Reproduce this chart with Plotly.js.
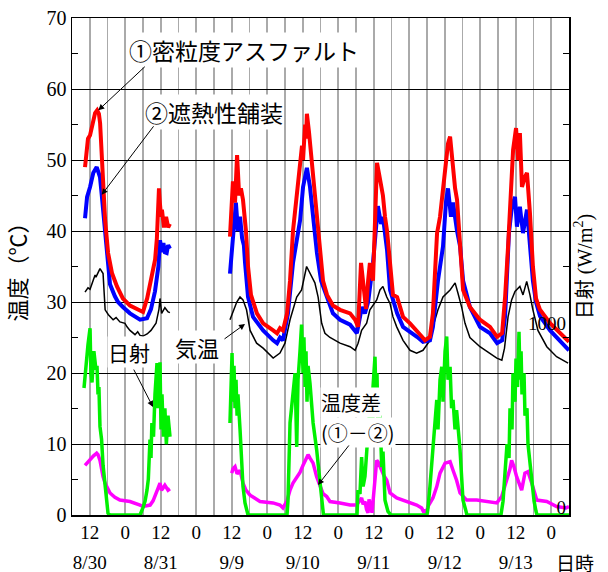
<!DOCTYPE html>
<html><head><meta charset="utf-8">
<script src="https://cdn.plot.ly/plotly-3.0.1.min.js"></script>
<style>body{margin:0;background:#fff}#chart{width:608px;height:572px}</style>
</head><body><div id="chart"></div>
<script>
// Time axis in hours on a compressed scale: 0 = 8/30 0:00, 24 = 8/31 0:00,
// 48 = 9/9 0:00, 72 = 9/10 0:00, 96 = 9/11, 120 = 9/12, 144 = 9/13, 168 = 9/14 0:00
const tickHours = [12,24,36,48,60,72,84,96,108,120,132,144,156,168];
const tickLabels = ['12','0','12','0','12','0','12','0','12','0','12','0','12','0'];
const dateHours = [12,36,60,84,108,132,156];
const dateLabels = ['8/30','8/31','9/9','9/10','9/11','9/12','9/13'];

// ① dense-graded asphalt surface temperature (°C)
const redHours = [10.4,11.1,11.4,12.1,12.8,13.8,14.5,15.1,15.5,16.1,
  16.5,17.2,18.2,19.5,21.2,23.2,25.6,27.3,29.0,30.0,
  31.4,32.4,33.4,34.1,34.7,35.4,35.7,36.1,36.4,37.1,
  37.8,38.5,39.1,null,
  59.4,60.1,60.4,61.1,61.8,62.5,63.1,63.8,64.8,65.5,
  66.5,68.5,70.6,74.0,75.3,76.3,77.3,78.7,79.7,80.7,
  81.7,82.7,83.4,83.75,84.1,84.8,85.1,85.4,86.1,86.8,
  87.5,88.1,88.8,89.8,90.85,92.2,94.2,96.6,100.0,101.7,
  102.7,103.7,104.4,105.4,106.1,106.7,107.75,108.4,109.1,109.8,
  110.45,111.1,111.8,112.5,113.5,114.5,115.9,117.9,120.25,122.6,
  124.3,125.3,127.0,128.0,128.7,129.4,130.4,131.4,132.4,133.1,
  133.8,134.5,134.8,135.5,136.15,136.8,137.5,138.2,140.5,143.9,
  147.3,149.7,151.4,152.4,153.4,154.1,155.1,156.1,156.8,157.4,
  158.1,159.1,159.8,160.8,161.8,162.85,164.2,167.6,171.0,174.0];
const redTemp = [49,51.5,53,53.5,55,56.6,57,56.5,55.2,50.5,
  46.2,41.5,36.9,34.1,32.2,30.5,29.5,29.2,28.9,28.6,
  30.5,32.5,34.5,36,39,46,44,42,43,40.5,
  42,40.5,41,null,
  39.2,45,47,44,50.7,45,46,44.4,40,35,
  31,28.4,27,26,25.6,26.3,26,28.4,33,40,
  44,49,51,52,50,55,53,56.5,54,51,
  48,45,42,37,33,31,29.5,28.9,28.4,27.5,
  26.5,35.5,33,29,33,35.5,33,42,49.6,48,
  46.2,45,42,40,35.5,31,30.7,27.9,27,26,
  25.1,24.6,25.1,28.4,33,39.7,42,46.2,50,52.3,
  53.3,50,48,46,44.4,40,35.5,31.7,29.3,27.5,
  26.5,25.1,25.6,30.7,37.8,44,51.4,54.5,50,53.8,
  46.2,47.6,48.2,42.5,35,30.5,28.9,27,25.6,24.4];

// ② heat-shielding pavement surface temperature (°C)
const blueHours = [10.4,11.1,12.1,13.2,14.35,15.46,16.0,16.6,17.7,18.85,
  20.5,21.55,23.2,25.6,29.0,31.35,32.7,34.05,35.2,35.75,
  36.4,36.9,37.4,38.0,38.5,39.1,null,
  59.4,60.1,60.8,61.4,62.1,62.8,63.5,64.1,64.5,65.5,
  67.2,70.6,74.0,75.3,76.3,77.3,79.0,80.7,81.7,83.1,
  84.1,85.4,86.45,87.5,88.8,90.2,92.2,94.2,96.6,100.0,
  102.3,104.0,105.0,106.1,107.75,108.8,109.4,110.45,111.1,112.5,
  113.5,115.9,117.9,122.6,124.65,127.0,128.0,129.7,131.4,132.4,
  133.1,134.1,134.8,136.15,137.2,138.2,140.5,143.9,147.3,149.7,
  151.4,152.4,153.05,153.7,154.7,155.75,156.4,157.4,158.45,159.8,
  160.8,161.8,162.85,164.2,167.6,171.0,174.0];
const blueTemp = [41.8,44.8,46.2,48.2,49,47.6,45.3,42.5,36.5,32.5,
  30.8,30,29.3,28.4,27.5,27.7,29,31.5,35,38.7,
  37,38.3,37,36.9,38,37.5,null,
  34,38,42,44,40,42,39,38,35.5,30.7,
  27.9,26,24.6,24.2,25,24.6,28.4,35.5,38,41.5,
  46.2,48.9,46.2,42,36.9,33,30.7,28.4,27.5,26.8,
  25.6,29.3,28.4,30,35.5,40,43.5,41,42,37.3,
  31.7,28.4,26.5,25.1,24.4,24.6,26.5,33,37.8,44,
  46,42,44,40,37.8,33,29.3,26.5,25.6,24.2,
  24.6,28,33,39.7,43.4,44.8,40.6,43.4,39.7,43,
  38,33,30,28,26,24.6,23.2];

// air temperature (°C)
const airHours = [10.4,11.4,12.1,12.8,13.2,13.8,14.1,15.46,16.5,17.2,
  18.3,19.9,20.9,22.2,23.9,24.6,25.6,27.3,28.2,29.0,
  30.0,31.4,32.7,34.4,35.4,35.75,36.3,37.4,38.5,39.1,null,
  59.4,60.4,61.7,62.8,63.8,65.0,66.2,68.4,70.6,74.0,
  75.3,76.3,78.0,79.7,81.96,83.6,85.3,86.45,88.1,89.2,
  90.4,91.5,93.2,96.6,100.0,101.7,102.7,103.9,105.6,106.7,
  109.0,110.1,111.1,112.4,113.5,114.5,115.76,117.9,120.25,122.5,
  124.65,127.0,128.0,129.7,131.4,133.8,135.5,136.5,137.7,138.85,
  140.5,143.9,147.3,149.6,151.3,152.2,153.4,154.6,155.75,157.4,
  158.45,159.7,160.8,161.8,163.5,166.5,169.8,173.7];
const airTemp = [31.4,32,31.8,32.5,33.1,33.8,33.5,34.7,34,28.9,
  28.2,27.5,27.8,27.2,27,26.5,26,25.4,25.8,25.3,
  25.2,25.5,26,27,29,30.5,28.4,29.2,28.6,28.5,null,
  27.5,28.5,30,30.7,30.3,28.9,26,24.2,23.5,22.1,
  22.5,22.8,24.2,27.5,30.7,31.7,35,34,32.7,30.7,
  27,25.6,25,24.2,23.7,23.2,24.2,26,27,28.9,
  30.3,31.7,32.2,30.7,29.8,27.9,26.5,24.6,23.2,22.8,
  23.2,24.6,26.5,28.9,30.7,31.7,32.7,31.2,29.3,27,
  25,23.7,22.8,22.1,21.8,23.5,27.9,30.3,31.5,32.2,
  31,32.9,31,28.9,26,23.7,22.3,21.4];

// solar radiation (W/m²)
const solarHours = [10.06,10.7,11.4,12.1,12.4,12.76,13.4,14.1,14.45,14.8,
  15.1,15.46,16.0,16.5,17.16,17.7,18.17,18.85,29.0,30.0,
  30.7,31.35,31.8,32.36,32.7,33.0,33.55,34.05,34.73,35.07,
  35.75,36.09,36.42,36.9,37.4,37.9,38.45,39.13,null,
  59.4,59.75,60.1,60.4,60.76,61.1,61.44,61.8,62.1,62.8,
  63.4,63.8,64.48,65.5,78.68,79.0,79.7,80.7,81.4,81.96,
  82.4,83.07,83.6,84.1,84.4,84.8,85.1,85.44,85.8,86.45,
  87.5,88.7,89.8,90.5,91.0,102.34,102.68,103.35,103.9,104.4,
  105.04,106.06,106.73,107.4,107.75,108.42,108.76,109.1,109.44,110.1,
  110.7,111.13,111.8,112.8,113.8,126.0,126.34,127.0,128.03,128.71,
  129.3,129.72,130.4,131.0,131.42,132.1,132.66,133.1,133.8,134.3,
  134.8,135.47,136.0,137.16,138.17,139.2,139.5,151.0,151.36,151.7,
  152.37,153.05,153.72,154.06,154.74,155.07,155.75,156.09,156.6,157.1,
  157.44,157.8,158.11,158.8,159.12,159.8,160.14,160.82,161.49,162.2,
  162.85,163.18,174.0];
const solarWm2 = [690,825,925,1015,770,720,890,790,810,655,
  695,480,410,270,175,75,10,0,0,40,
  75,135,195,410,310,500,425,655,825,580,
  830,465,655,425,580,385,540,425,null,
  500,770,880,615,810,580,735,540,655,465,
  230,155,65,0,0,75,500,640,770,370,
  735,890,1035,770,965,695,890,615,810,715,
  500,355,175,60,0,0,135,115,315,155,
  210,445,585,425,695,860,615,770,445,540,
  260,345,80,20,0,0,40,155,390,540,
  625,465,735,805,615,890,970,735,805,580,
  625,465,570,355,80,20,0,0,40,75,
  230,385,310,580,465,770,615,850,695,995,
  735,890,655,770,540,580,385,270,195,75,
  20,0,0];

// temperature difference ①−② (°C)
const diffHours = [10.4,11.4,12.1,13.2,14.35,14.8,15.46,16.0,16.5,17.16,
  18.85,20.5,22.2,25.6,27.3,29.0,30.0,32.4,33.4,34.05,
  35.1,35.75,36.25,36.8,37.4,38.45,39.1,null,
  60.0,60.4,61.1,61.8,62.8,63.8,64.8,66.2,69.55,73.95,
  76.3,77.3,78.7,79.7,80.7,81.96,83.07,84.1,85.1,85.8,
  86.45,87.5,88.7,89.8,90.85,92.1,93.2,96.6,100.0,102.2,
  103.35,103.9,104.4,105.04,105.55,106.06,106.4,107.1,107.41,107.75,
  108.42,109.0,109.44,110.1,110.7,111.5,112.4,113.5,115.76,119.1,
  122.5,124.2,125.0,125.3,125.66,126.34,128.0,129.3,130.4,132.1,
  133.8,134.8,136.0,137.16,139.4,142.8,146.2,149.6,151.25,152.9,
  154.06,154.6,155.4,156.3,157.1,158.0,159.1,160.14,161.4,163.1,
  166.5,169.8,173.0,174.0];
const diffTemp = [7.0,7.5,7.7,8.3,8.7,8.5,7.7,6.3,5.4,4.5,
  3.1,2.5,2.1,1.9,1.7,1.4,1.2,1.4,2,2.6,
  3.8,4.5,3.5,3.8,4.2,3.5,3.7,null,
  5.9,6.5,6.8,5.8,6.3,4.5,3.5,2.8,1.9,1.7,
  1.4,1.0,2,3.5,4.5,5.4,6,7,7.8,8.5,
  8,7.3,5.4,4,3,2.6,1.9,1.7,1.4,1.4,
  2.2,2.4,1.5,1.9,0.8,0.3,2.2,1.2,0.3,2,
  5,7.7,7.5,6.8,6.3,5.5,4.9,3.1,2.4,1.9,
  1.4,1.0,0.3,0.8,0.2,1.2,2.4,4,5.9,7.3,
  7.5,6.3,4.9,3.1,2.1,2.1,1.9,1.7,2.6,4.9,
  6.5,7.7,6.8,5.4,4.5,3.5,5.9,6.1,4.5,2.1,
  1.9,1.2,1.0,1.2];

const serif = 'Liberation Serif, Noto Sans CJK JP, serif';
const jp = 'Noto Sans CJK JP, sans-serif';

const traces = [
  {x: solarHours, y: solarWm2, xaxis: 'x2', yaxis: 'y2', type: 'scatter', mode: 'lines',
   line: {color: '#00f000', width: 3.5}, connectgaps: false},
  {x: diffHours, y: diffTemp, type: 'scatter', mode: 'lines',
   line: {color: '#ff00ff', width: 3.5}, connectgaps: false},
  {x: airHours, y: airTemp, type: 'scatter', mode: 'lines',
   line: {color: '#000000', width: 1.5}, connectgaps: false},
  {x: blueHours, y: blueTemp, type: 'scatter', mode: 'lines',
   line: {color: '#0000ff', width: 4}, connectgaps: false},
  {x: redHours, y: redTemp, type: 'scatter', mode: 'lines',
   line: {color: '#ff0000', width: 4}, connectgaps: false}
];

function label(text, x, y, size, xanchor) {
  return {text: text, xref: 'paper', yref: 'paper', x: x, y: y, showarrow: false,
    xanchor: xanchor || 'center', yanchor: 'middle', align: 'left', bgcolor: '#ffffff', borderpad: 0,
    font: {family: jp, size: size, color: '#000'}};
}
function arrow(x, y, ax, ay) {
  return {text: '', x: x, y: y, xref: 'x', yref: 'y', ax: ax, ay: ay, showarrow: true,
    arrowhead: 2, arrowsize: 1.2, arrowwidth: 1, arrowcolor: '#000', standoff: 0};
}

const layout = {
  width: 608, height: 572,
  margin: {l: 72, r: 39, t: 18, b: 57},
  paper_bgcolor: '#fff', plot_bgcolor: '#fff',
  showlegend: false,
  xaxis: {
    range: [6, 174], tickmode: 'array', tickvals: tickHours, ticktext: tickLabels,
    ticks: '', showgrid: true, gridcolor: '#aaaaaa', gridwidth: 1.6,
    minor: {tickmode: 'linear', tick0: 0, dtick: 6, showgrid: true, gridcolor: '#aaaaaa', gridwidth: 1.6, ticks: ''},
    showline: true, linecolor: '#000', linewidth: 1.5, mirror: true, zeroline: false,
    tickfont: {family: serif, size: 19, color: '#000'}
  },
  xaxis2: {
    overlaying: 'x', anchor: 'y2', side: 'bottom', range: [6, 174],
    tickmode: 'array', tickvals: dateHours, ticktext: dateLabels,
    ticks: '', showgrid: false, showline: false, zeroline: false,
    ticklabelstandoff: 34,
    tickfont: {family: serif, size: 19, color: '#000'}
  },
  yaxis: {
    range: [0, 70], tickmode: 'linear', tick0: 0, dtick: 10,
    ticks: 'inside', ticklen: 6, tickcolor: '#000', tickwidth: 1,
    minor: {tickmode: 'linear', tick0: 0, dtick: 5, ticks: 'inside', ticklen: 6, tickcolor: '#000', showgrid: false},
    showline: true, linecolor: '#000', linewidth: 1.5, mirror: 'ticks',
    showgrid: true, gridcolor: '#000', gridwidth: 1, zeroline: false,
    tickfont: {family: serif, size: 20, color: '#000'},
    title: {text: '温度（℃）', font: {family: jp, size: 22, color: '#000'}, standoff: 14}
  },
  yaxis2: {
    overlaying: 'y', anchor: 'x2', side: 'right', range: [0, 2700],
    tickmode: 'array', tickvals: [0, 1000], ticktext: ['0', '1000'],
    ticklabelposition: 'inside', ticklabelshift: -8, ticklabeloverflow: 'allow', ticks: '',
    showgrid: false, showline: false, zeroline: false,
    tickfont: {family: serif, size: 19, color: '#000'},
    title: {text: '日射 (W/m<sup>2</sup>)', font: {family: serif, size: 20, color: '#000'}, standoff: 12}
  },
  annotations: [
    label('①密粒度アスファルト', 0.3451, 0.9356, 23),
    label('②遮熱性舗装', 0.2863, 0.8115, 23),
    label('日射', 0.1147, 0.328, 21),
    label('気温', 0.2525, 0.338, 22),
    label('温度差', 0.499, 0.2266, 20, 'left'),
    label('(①－②)', 0.499, 0.1660, 20, 'left'),
    {text: '日時', xref: 'paper', yref: 'paper', x: 1.012, y: -0.0946, showarrow: false,
     xanchor: 'center', yanchor: 'middle', font: {family: jp, size: 19, color: '#000'}},
    arrow(14.89, 57.0, 48, -45),
    arrow(16.04, 45.1, 53, -70),
    arrow(33.38, 15.2, -20, -39),
    arrow(64.48, 26.9, -22, 16),
    arrow(89.16, 4.23, 32, -41)
  ]
};

Plotly.newPlot('chart', traces, layout, {staticPlot: true, displayModeBar: false});
</script>
</body></html>
